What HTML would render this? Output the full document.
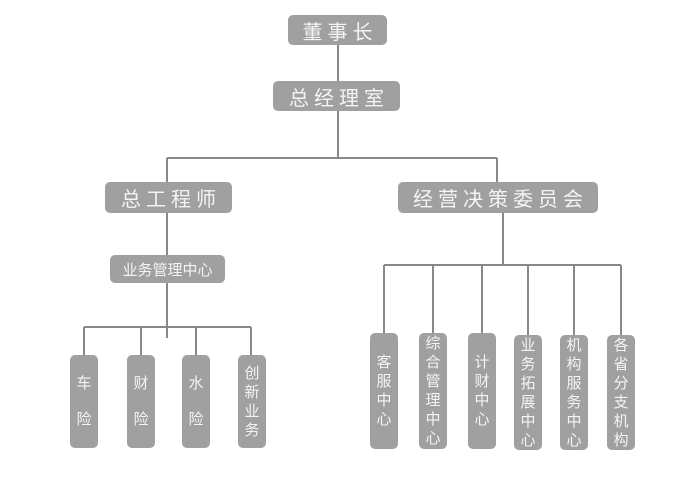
<!DOCTYPE html>
<html><head><meta charset="utf-8"><style>
body{margin:0;width:681px;height:488px;background:#fff;position:relative;overflow:hidden;font-family:"Liberation Sans","Noto Sans CJK SC",sans-serif;}
.b{position:absolute;background:#a0a0a0;color:#f4f4f4;border-radius:5px;display:flex;align-items:center;justify-content:center;white-space:nowrap;}
.t{font-size:20px;letter-spacing:5px;padding-left:5px;box-sizing:border-box;}
.v{font-size:15px;flex-direction:column;line-height:19px;text-align:center;width:28px;}
svg{position:absolute;left:0;top:0;}
</style></head><body>
<svg width="681" height="488" stroke="#888" stroke-width="2" fill="none">
<path d="M338 45V158M167 158H497M167 158V182M497 158V182"/>
<path d="M167 213V338M84 327H251M84 327V355M141 327V355M196 327V355M251 327V355"/>
<path d="M503 213V265M384 265H621M384 265V333M433 265V333M482 265V333M528 265V335M574 265V335M621 265V335"/>
</svg>
<div class="b t" style="left:288px;top:15px;width:99px;height:30px;">董事长</div>
<div class="b t" style="left:273px;top:81px;width:127px;height:30px;">总经理室</div>
<div class="b t" style="left:105px;top:182px;width:127px;height:31px;">总工程师</div>
<div class="b t" style="left:398px;top:182px;width:200px;height:31px;">经营决策委员会</div>
<div class="b" style="left:110px;top:255px;width:115px;height:28px;font-size:15px;">业务管理中心</div>
<div class="b v" style="left:70px;top:355px;height:93px;justify-content:space-around;padding:10px 0;box-sizing:border-box;"><span>车</span><span>险</span></div>
<div class="b v" style="left:127px;top:355px;height:93px;justify-content:space-around;padding:10px 0;box-sizing:border-box;"><span>财</span><span>险</span></div>
<div class="b v" style="left:182px;top:355px;height:93px;justify-content:space-around;padding:10px 0;box-sizing:border-box;"><span>水</span><span>险</span></div>
<div class="b v" style="left:238px;top:355px;height:93px;">创<br>新<br>业<br>务</div>
<div class="b v" style="left:370px;top:333px;height:116px;">客<br>服<br>中<br>心</div>
<div class="b v" style="left:419px;top:333px;height:116px;">综<br>合<br>管<br>理<br>中<br>心</div>
<div class="b v" style="left:468px;top:333px;height:116px;">计<br>财<br>中<br>心</div>
<div class="b v" style="left:514px;top:335px;height:115px;">业<br>务<br>拓<br>展<br>中<br>心</div>
<div class="b v" style="left:560px;top:335px;height:115px;">机<br>构<br>服<br>务<br>中<br>心</div>
<div class="b v" style="left:607px;top:335px;height:115px;">各<br>省<br>分<br>支<br>机<br>构</div>
</body></html>
